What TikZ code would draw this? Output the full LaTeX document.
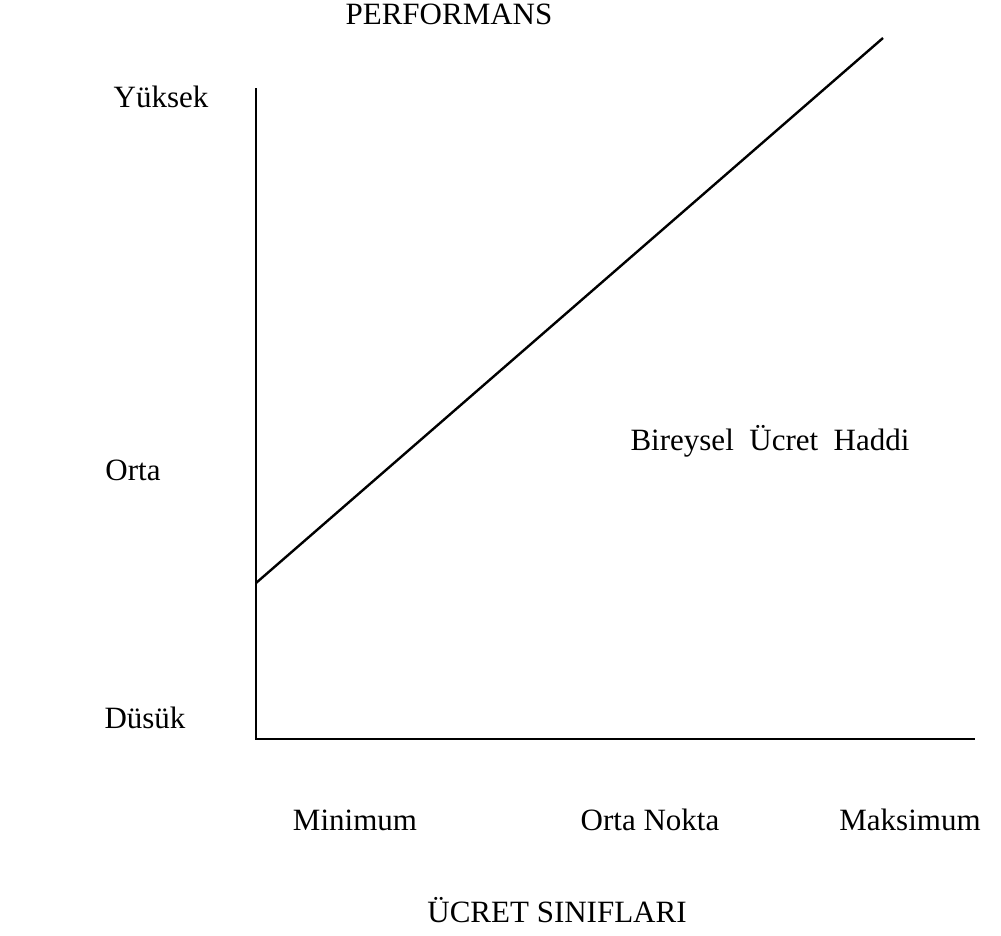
\documentclass[tikz,border=0pt]{standalone}
\usepackage{fontspec}
\setmainfont{Liberation Serif}
\usetikzlibrary{positioning}

\begin{document}
\begin{tikzpicture}[
	x = 1pt, y = -1pt, % pixel-like units, y downwards
	axis/.style={draw=black, line width=2.4pt},
	lbl/.style={inner sep=0pt, font=\fontsize{31}{37}\selectfont},  % plain text labels
	]
	\useasboundingbox (0,0) rectangle (1001,935);

	% Axis corners and the rate line
	\coordinate (top)    at (256,88);
	\coordinate (origin) at (256,739);
	\coordinate (right)  at (975,739);
	\coordinate (start)  at (256,583);
	\coordinate (end)    at (883,38);

	% Labels
	\node[lbl] (perf)  at (449,14)  {PERFORMANS};
	\node[lbl] (high)  at (161,97)  {Yüksek};
	\node[lbl] (mid)   at (133,470) {Orta};
	\node[lbl] (low)   at (145,718) {Düsük};
	\node[lbl] (rate)  at (770,441) {Bireysel\ \ Ücret\ \ Haddi};
	\node[lbl] (min)   at (355,820) {Minimum};
	\node[lbl] (midpt) at (650,820) {Orta Nokta};
	\node[lbl] (max)   at (910,820) {Maksimum};
	\node[lbl] (grade) at (557,910) {ÜCRET SINIFLARI};

	% Paths
	\draw[axis] (top) -- (origin) -- (right);
	\draw[axis] (start) -- (end);

\end{tikzpicture}
\end{document}
